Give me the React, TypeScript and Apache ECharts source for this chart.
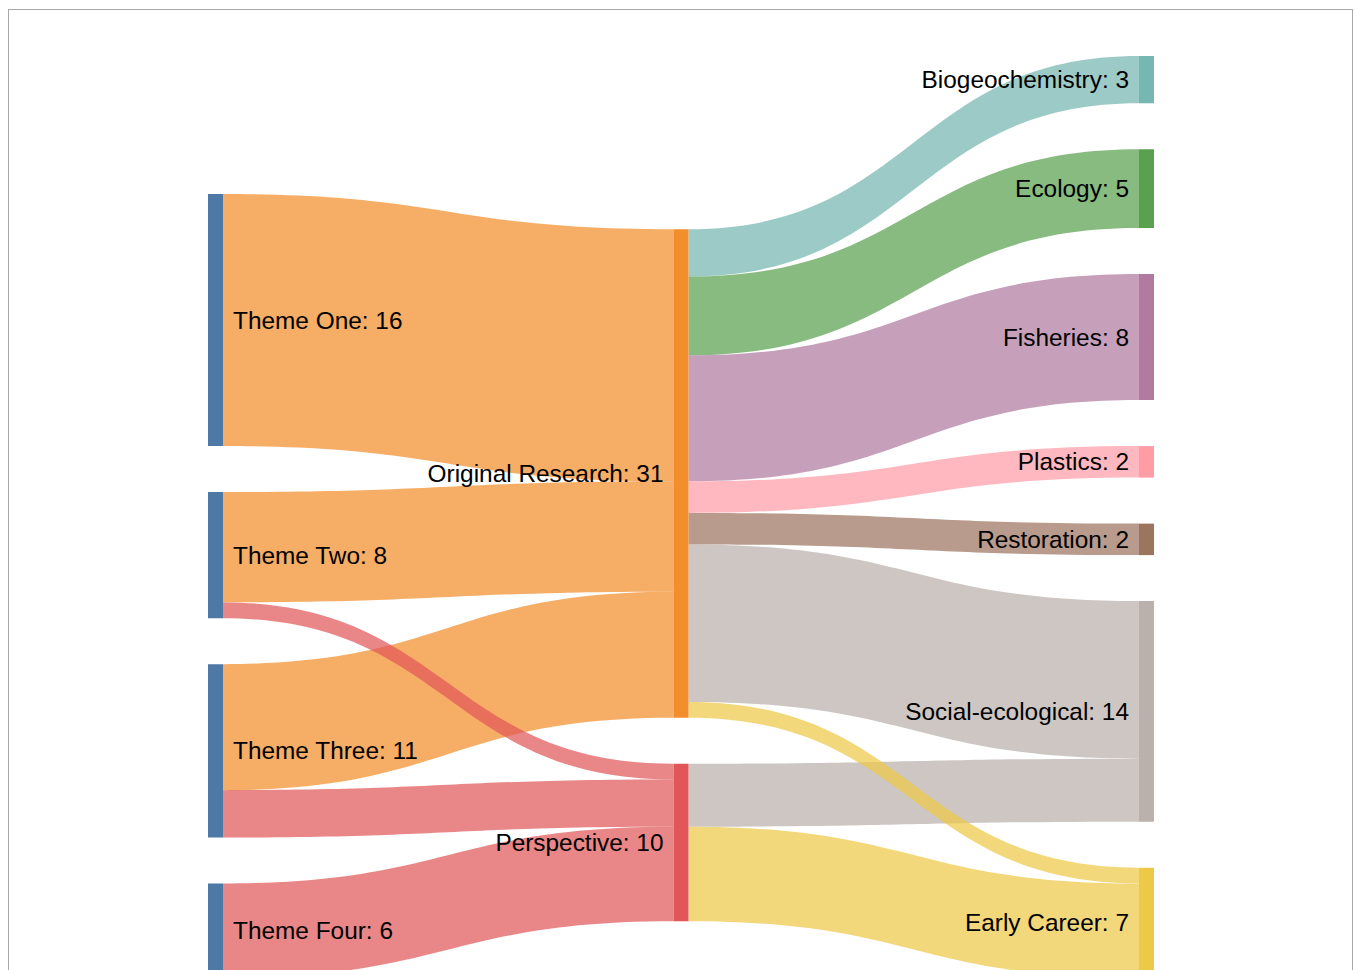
import React, { useEffect, useRef } from "react";
import * as echarts from "echarts";

const nodeNames = [
  "Theme One",
  "Theme Two",
  "Theme Three",
  "Theme Four",
  "Original Research",
  "Perspective",
  "Biogeochemistry",
  "Ecology",
  "Fisheries",
  "Plastics",
  "Restoration",
  "Social-ecological",
  "Early Career",
];

const nodeColors = [
  "#4e79a7",
  "#4e79a7",
  "#4e79a7",
  "#4e79a7",
  "#f28e2b",
  "#e15759",
  "#76b7b2",
  "#59a14f",
  "#b07aa1",
  "#ff9da7",
  "#9c755f",
  "#bab0ac",
  "#edc948",
];

const linkSources = [
  "Theme One",
  "Theme Two",
  "Theme Three",
  "Theme Two",
  "Theme Three",
  "Theme Four",
  "Original Research",
  "Original Research",
  "Original Research",
  "Original Research",
  "Original Research",
  "Original Research",
  "Perspective",
  "Perspective",
  "Original Research",
];

const linkTargets = [
  "Original Research",
  "Original Research",
  "Original Research",
  "Perspective",
  "Perspective",
  "Perspective",
  "Biogeochemistry",
  "Ecology",
  "Fisheries",
  "Plastics",
  "Restoration",
  "Social-ecological",
  "Social-ecological",
  "Early Career",
  "Early Career",
];

const linkValues = [16, 7, 8, 1, 3, 6, 3, 5, 8, 2, 2, 10, 4, 6, 1];

function buildOption(iterations: number, localY: Record<string, number>) {
  const totals: Record<string, number> = {};
  nodeNames.forEach((n) => {
    let inSum = 0;
    let outSum = 0;
    linkSources.forEach((s, i) => {
      if (s === n) outSum += linkValues[i];
      if (linkTargets[i] === n) inSum += linkValues[i];
    });
    totals[n] = Math.max(inSum, outSum);
  });

  const data = nodeNames.map((n, i) => {
    const isSourceOnly = !linkTargets.includes(n);
    const item: any = {
      name: n,
      value: totals[n],
      itemStyle: { color: nodeColors[i], borderWidth: 0, opacity: 1 },
      label: { position: isSourceOnly ? "right" : "left" },
    };
    if (localY[n] != null) item.localY = localY[n];
    return item;
  });

  const links = linkSources.map((s, i) => ({
    source: s,
    target: linkTargets[i],
    value: linkValues[i],
  }));

  return {
    animation: false,
    backgroundColor: "transparent",
    series: [
      {
        type: "sankey",
        left: 208,
        right: 200,
        top: 56,
        bottom: 22,
        nodeWidth: 15,
        nodeGap: 46,
        nodeAlign: "justify",
        layoutIterations: iterations,
        draggable: false,
        emphasis: { disabled: true },
        data,
        links,
        label: {
          show: true,
          formatter: "{b}: {c}",
          fontFamily: "Liberation Sans, Arial, sans-serif",
          fontSize: 24.4,
          color: "#000",
          distance: 10,
        },
        lineStyle: { color: "target", opacity: 0.72, curveness: 0.5 },
        itemStyle: { borderWidth: 0 },
      },
    ],
  };
}

export default function App() {
  const ref = useRef<HTMLDivElement>(null);

  useEffect(() => {
    if (!ref.current) return;
    const chart = echarts.init(ref.current, undefined, { renderer: "svg" });

    // First pass: the library's relaxed layout, used for the source columns.
    chart.setOption(buildOption(32, {}));
    try {
      const sm: any = (chart as any).getModel().getSeriesByIndex(0);
      const graph = sm.getGraph();
      const h = sm.layoutInfo.height;
      const localY: Record<string, number> = {};
      graph.nodes.forEach((node: any) => {
        const name = graph.data.getName(node.dataIndex);
        if (linkSources.includes(name)) {
          localY[name] = node.getLayout().y / h;
        }
      });
      // Second pass: keep the target column in data order.
      chart.setOption(buildOption(0, localY), true);
    } catch (e) {
      // keep first-pass layout
    }

    return () => chart.dispose();
  }, []);

  return (
    <div
      style={{
        position: "fixed",
        left: 0,
        top: 0,
        width: 1354,
        height: 970,
        overflow: "hidden",
        background: "#fff",
      }}
    >
      <div
        style={{
          position: "absolute",
          left: 8,
          top: 9,
          width: 1345,
          height: 1100,
          border: "1px solid #a8a8a8",
          boxSizing: "border-box",
        }}
      />
      <div
        ref={ref}
        style={{ position: "absolute", left: 0, top: 0, width: 1354, height: 1000 }}
      />
    </div>
  );
}
